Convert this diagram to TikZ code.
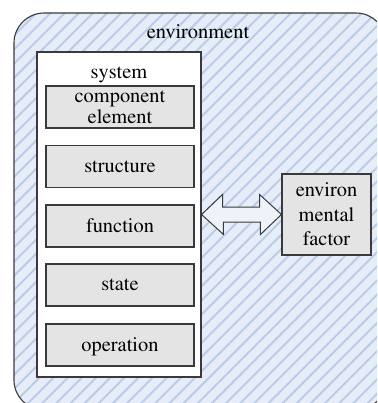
\documentclass[tikz,border=0pt]{standalone}
\usepackage[T1]{fontenc}
\usepackage{times}
\usetikzlibrary{patterns.meta,calc}
\definecolor{bgblue}{HTML}{E6EDF8}
\definecolor{hatchblue}{HTML}{BACCE8}
\definecolor{boxgray}{HTML}{E4E4E4}
\definecolor{linegray}{HTML}{3A3A3A}
\definecolor{arrowfill}{HTML}{EEF3FA}
\tikzset{
  envbox/.style={draw=linegray, line width=1.1pt, rounded corners=30pt,
    preaction={fill=bgblue},
    pattern={Lines[angle=45,distance=10pt,line width=2pt]}, pattern color=hatchblue},
  sysbox/.style={draw=linegray, line width=1.1pt, fill=white, inner sep=0pt,
    minimum width=164pt, minimum height=325pt},
  partbox/.style={draw=linegray, line width=1.1pt, fill=boxgray, inner sep=0pt,
    minimum width=148pt, minimum height=42pt, text depth=0pt, align=center},
  factorbox/.style={draw=linegray, line width=1.1pt, fill=boxgray, inner sep=0pt,
    minimum width=89pt, minimum height=81pt, align=center},
  arrowshape/.style={draw=linegray, line width=1pt, fill=arrowfill, line join=miter},
  txt/.style={inner sep=0pt}
}
\begin{document}
\begin{tikzpicture}[x=1pt,y=-1pt,font=\fontsize{20.4}{21.5}\selectfont]
\useasboundingbox (0,0) rectangle (377,403);
\clip (0,0) rectangle (377,403);
\draw[envbox] (14,13) rectangle (386,410);
\node[txt, anchor=base] (envtitle) at (198,38.5) {environment};
\node[sysbox] (sys) at (119,214.5) {};
\node[txt, anchor=base] (systitle) at (119,79) {system};
\node[partbox] (comp) at (120,107) {component\\element};
\node[partbox] (struct) at (120,166.5) {structure};
\node[partbox] (func) at (120,226) {function};
\node[partbox] (state) at (120,285) {state};
\node[partbox] (oper) at (120,345) {operation};
\node[factorbox, font=\fontsize{20.4}{24.5}\selectfont] (env) at (326.5,214.5) {environ\\mental\\factor};
\coordinate (al) at (sys.east |- env.west);
\coordinate (ar) at (env.west);
\draw[arrowshape] (al) -- ++(21,-20) -- ++(0,12.5) -- ++(37,0) -- ++(0,-12.5)
  -- (ar) -- ++(-21,20) -- ++(0,-12.5) -- ++(-37,0) -- ++(0,12.5) -- cycle;
\end{tikzpicture}
\end{document}
